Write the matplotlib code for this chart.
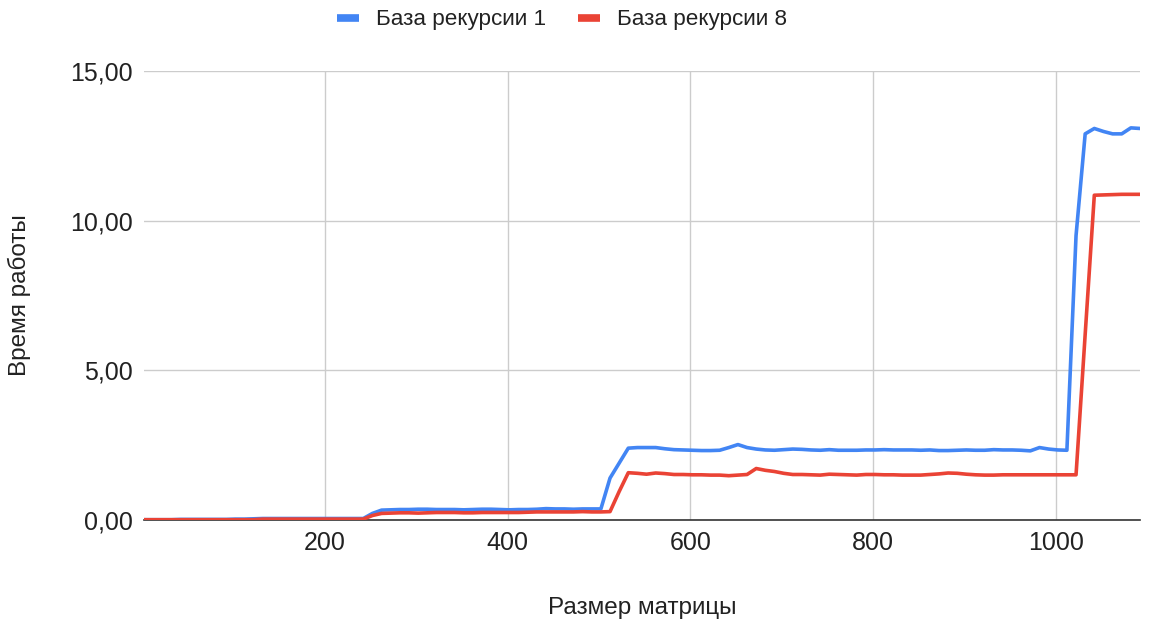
import matplotlib
matplotlib.use("Agg")
import matplotlib.pyplot as plt
from matplotlib.lines import Line2D
from matplotlib.ticker import FuncFormatter

sizes = list(range(2, 1093, 10))

base1 = [
    0.01, 0.01, 0.01, 0.01, 0.02, 0.02, 0.02, 0.02, 0.02, 0.02, 0.03, 0.03, 0.04,
    0.05, 0.05, 0.05, 0.05, 0.05, 0.05, 0.05, 0.05, 0.05, 0.05, 0.05, 0.05,
    0.22,
    0.33, 0.34, 0.35, 0.35, 0.36, 0.36, 0.35, 0.35, 0.35, 0.34, 0.35, 0.36,
    0.36, 0.35, 0.34, 0.35, 0.35, 0.36, 0.38, 0.37, 0.37, 0.36, 0.37, 0.37,
    0.37, 1.40, 1.90, 2.40, 2.42, 2.42, 2.42, 2.38, 2.35, 2.34,
    2.33, 2.32, 2.32, 2.33, 2.42, 2.52, 2.42, 2.37, 2.34, 2.33,
    2.35, 2.37, 2.36, 2.34, 2.33, 2.35, 2.33, 2.33, 2.33, 2.34,
    2.34, 2.35, 2.34, 2.34, 2.34, 2.33, 2.34, 2.32, 2.32, 2.33,
    2.34, 2.33, 2.33, 2.35, 2.34, 2.34, 2.33, 2.31, 2.42, 2.37,
    2.34, 2.33, 9.50, 12.90, 13.08, 12.98, 12.90, 12.90, 13.10, 13.08,
]

base8 = [
    0.01, 0.01, 0.01, 0.01, 0.01, 0.01, 0.01, 0.01, 0.01, 0.01, 0.01, 0.01, 0.01,
    0.03, 0.03, 0.03, 0.03, 0.03, 0.03, 0.03, 0.03, 0.03, 0.03, 0.03, 0.03,
    0.15,
    0.22, 0.23, 0.24, 0.24, 0.23, 0.24, 0.25, 0.25, 0.25, 0.24, 0.24, 0.25,
    0.25, 0.25, 0.25, 0.25, 0.26, 0.27, 0.27, 0.27, 0.27, 0.27, 0.28, 0.27,
    0.27, 0.28, 0.95, 1.58, 1.56, 1.53, 1.57, 1.55, 1.52, 1.52,
    1.51, 1.51, 1.50, 1.50, 1.48, 1.50, 1.52, 1.72, 1.66, 1.62,
    1.56, 1.52, 1.52, 1.51, 1.50, 1.53, 1.52, 1.51, 1.50, 1.52,
    1.52, 1.51, 1.51, 1.50, 1.50, 1.50, 1.52, 1.54, 1.57, 1.56,
    1.53, 1.51, 1.50, 1.50, 1.51, 1.51, 1.51, 1.51, 1.51, 1.51,
    1.51, 1.51, 1.51, 6.20, 10.85, 10.86, 10.87, 10.88, 10.88, 10.88,
]

x_ticks = [200, 400, 600, 800, 1000]
y_ticks = [0, 5, 10, 15]
labels = ["База рекурсии 1", "База рекурсии 8"]
colors = ["#4285F4", "#EA4335"]

plt.rcParams['font.family'] = ['Liberation Sans', 'DejaVu Sans']

fig = plt.figure(figsize=(11.51, 6.21), dpi=100)
ax = fig.add_axes([144 / 1151, 1 - 520 / 621, (1140 - 144) / 1151, (520 - 71) / 621])

ax.plot(sizes, base1, color=colors[0], lw=2.6, solid_joinstyle='round', zorder=3)
ax.plot(sizes, base8, color=colors[1], lw=2.6, solid_joinstyle='round', zorder=4)

ax.set_xlim(sizes[0], sizes[-1])
ax.set_ylim(0, 15)
ax.set_xticks(x_ticks)
ax.set_yticks(y_ticks)
ax.yaxis.set_major_formatter(FuncFormatter(lambda v, p: f"{v:.2f}".replace('.', ',')))
ax.grid(True, color="#cccccc", lw=1)
ax.set_axisbelow(True)
for s in ['top', 'right', 'left']:
    ax.spines[s].set_visible(False)
ax.spines['bottom'].set_color('#333333')
ax.spines['bottom'].set_linewidth(1.2)
ax.tick_params(length=0, labelsize=18, colors='#222222')
ax.tick_params(axis='x', pad=8)
ax.tick_params(axis='y', pad=8)

ax.set_xlabel("Размер матрицы", fontsize=17.5, color='#222222', labelpad=30)
ax.set_ylabel("Время работы", fontsize=17.5, color='#222222', labelpad=28)

handles = [Line2D([0], [0], color=c, lw=5.5, solid_capstyle='butt') for c in colors]
fig.legend(handles, labels, loc='center', bbox_to_anchor=(562 / 1151, 1 - 20 / 621),
           ncol=2, frameon=False, fontsize=16.2, handlelength=1.0, columnspacing=1.4,
           handletextpad=0.75, labelcolor='#222222')

fig.savefig("out.png", dpi=100)
